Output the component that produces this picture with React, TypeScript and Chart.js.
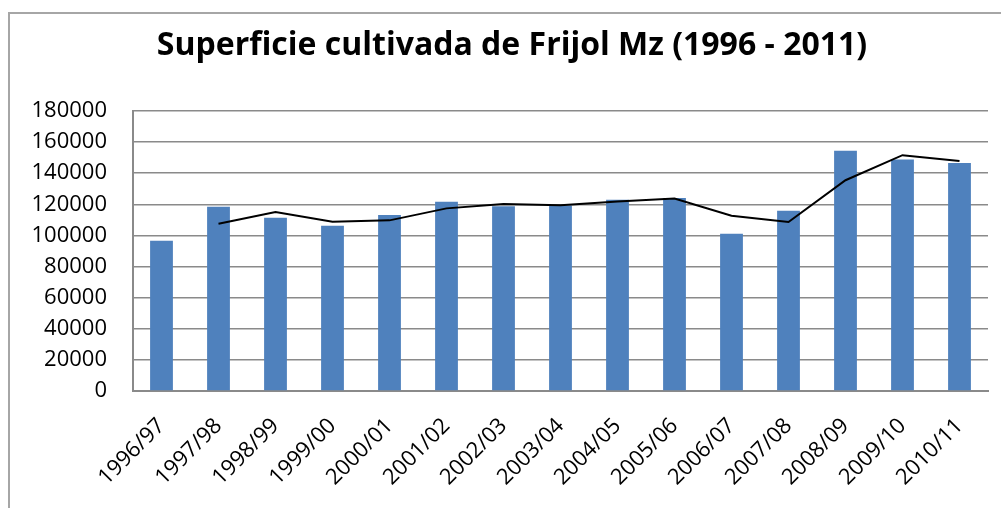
import React, { useEffect, useRef } from "react";
import { Chart, registerables } from "chart.js";

Chart.register(...registerables);

const categories = [
  "1996/97", "1997/98", "1998/99", "1999/00", "2000/01", "2001/02", "2002/03", "2003/04",
  "2004/05", "2005/06", "2006/07", "2007/08", "2008/09", "2009/10", "2010/11",
];
const superficie = [
  96600, 118500, 111400, 106300, 113200, 121700, 118700, 119200,
  123000, 124100, 101100, 115900, 154400, 148800, 146500,
];
const mediaMovil = [
  null, 107500, 115100, 108800, 109700, 117400, 120200, 119400,
  121900, 123700, 112700, 108600, 135500, 151600, 147800,
];
const yMin = 0;
const yMax = 180000;
const yStep = 20000;
const title = "Superficie cultivada de Frijol Mz (1996 - 2011)";

const FONT = "'Open Sans', 'Noto Sans', sans-serif";

const titlePlugin = {
  id: "centeredTitle",
  afterDraw(chart: any) {
    const ctx = chart.ctx;
    ctx.save();
    ctx.font = `bold 32px ${FONT}`;
    ctx.fillStyle = "#000000";
    ctx.textAlign = "center";
    ctx.textBaseline = "alphabetic";
    ctx.fillText(title, 512, 55);
    ctx.restore();
  },
};

export default function App() {
  const ref = useRef<HTMLCanvasElement | null>(null);
  useEffect(() => {
    if (!ref.current) return;
    const chart = new Chart(ref.current, {
      type: "bar",
      data: {
        labels: categories,
        datasets: [
          {
            type: "line",
            data: mediaMovil as any,
            borderColor: "#000000",
            borderWidth: 2,
            pointRadius: 0,
            tension: 0,
            fill: false,
            order: 0,
          },
          {
            type: "bar",
            data: superficie,
            backgroundColor: "#4F81BD",
            borderWidth: 0,
            categoryPercentage: 1,
            barPercentage: 0.4,
            order: 1,
          },
        ],
      },
      plugins: [titlePlugin],
      options: {
        responsive: true,
        maintainAspectRatio: false,
        animation: false,
        layout: { padding: { left: 0, right: 13, top: 111, bottom: 0 } },
        plugins: {
          legend: { display: false },
          tooltip: { enabled: false },
          title: { display: false },
        },
        scales: {
          x: {
            offset: true,
            grid: { display: false, drawTicks: false },
            border: { display: true, color: "#8a8a8a", width: 2 },
            ticks: {
              minRotation: 45,
              maxRotation: 45,
              autoSkip: false,
              padding: 22,
              color: "#000000",
              font: { family: FONT, size: 22 },
            },
            afterFit: (scale: any) => {
              scale.height = 117;
            },
          },
          y: {
            min: yMin,
            max: yMax,
            grid: { color: "#8a8a8a", lineWidth: 1.5, drawTicks: false },
            border: { display: true, color: "#8a8a8a", width: 2 },
            ticks: {
              stepSize: yStep,
              padding: 26,
              color: "#000000",
              font: { family: FONT, size: 22 },
              callback: (v: any) => String(v),
            },
            afterFit: (scale: any) => {
              scale.width = 133;
            },
          },
        },
      },
    });
    return () => chart.destroy();
  }, []);

  return (
    <div style={{ position: "fixed", left: 0, top: 0, width: 1001, height: 508, background: "#ffffff", overflow: "hidden" }}>
      <div
        style={{
          position: "absolute",
          left: 8,
          top: 12,
          width: 1100,
          height: 600,
          borderTop: "2px solid #a6a6a6",
          borderLeft: "2px solid #a6a6a6",
        }}
      />
      <div style={{ position: "absolute", left: 0, top: 0, width: 1001, height: 508 }}>
        <canvas ref={ref} />
      </div>
    </div>
  );
}
